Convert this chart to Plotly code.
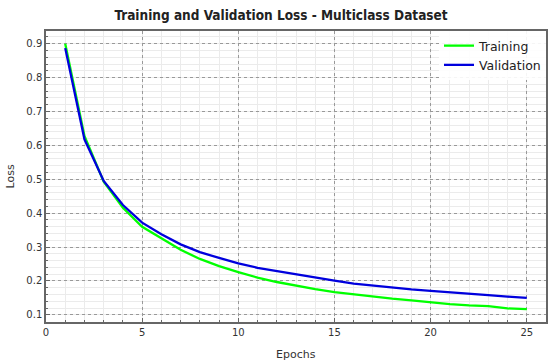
import plotly.graph_objects as go

epochs = list(range(1, 26))
training_loss = [0.900, 0.628, 0.493, 0.416, 0.360, 0.325, 0.292, 0.265, 0.244, 0.226,
                 0.210, 0.197, 0.186, 0.176, 0.167, 0.160, 0.153, 0.148, 0.143, 0.137,
                 0.132, 0.128, 0.126, 0.119, 0.117]
validation_loss = [0.887, 0.618, 0.495, 0.424, 0.372, 0.338, 0.308, 0.285, 0.268, 0.252,
                   0.239, 0.229, 0.219, 0.209, 0.201, 0.192, 0.186, 0.180, 0.175, 0.171,
                   0.166, 0.161, 0.158, 0.154, 0.150]
x_ticks = [0, 5, 10, 15, 20, 25]
y_ticks = [0.1, 0.2, 0.3, 0.4, 0.5, 0.6, 0.7, 0.8, 0.9]

fig = go.Figure()
fig.add_trace(go.Scatter(x=epochs, y=training_loss, mode="lines", name="Training",
                         line=dict(color="#00ff00", width=2.3)))
fig.add_trace(go.Scatter(x=epochs, y=validation_loss, mode="lines", name="Validation",
                         line=dict(color="#0000dd", width=2.3)))

axis_common = dict(
    showline=True, linecolor="#666666", linewidth=1.5, mirror=True,
    showgrid=True, gridcolor="#999999", griddash="dot", gridwidth=1,
    ticks="inside", ticklen=4, tickcolor="#666666",
    tickfont=dict(family="DejaVu Sans", size=10, color="#333333"),
    zeroline=False, automargin=False,
)
minor_common = dict(showgrid=True, gridcolor="#ebebeb", gridwidth=1, griddash="solid",
                    ticks="inside", ticklen=2, tickcolor="#666666")

L, R, T, B = 46, 4, 31, 42
W, H = 550, 364
pw, ph = W - L - R, H - T - B

fig.update_layout(
    width=W, height=H,
    margin=dict(l=L, r=R, t=T, b=B),
    paper_bgcolor="white", plot_bgcolor="white",
    title=dict(text="<b>Training and Validation Loss - Multiclass Dataset</b>",
               x=281 / W, xanchor="center", y=1 - 15 / H, yanchor="middle",
               font=dict(family="DejaVu Sans Condensed", size=13.5, color="#222222")),
    xaxis=dict(range=[0, 26], tickvals=x_ticks,
               minor=dict(dtick=1, **minor_common),
               **axis_common),
    yaxis=dict(range=[0.079, 0.9375], tickvals=y_ticks, tickformat=".1f",
               minor=dict(dtick=0.02, tick0=0.1, **minor_common),
               **axis_common),
    legend=dict(x=1.0, y=1.0, xanchor="right", yanchor="top",
                bgcolor="rgba(255,255,255,0.9)", borderwidth=0,
                font=dict(family="DejaVu Sans", size=12.5, color="#222222"),
                itemwidth=30),
    showlegend=True,
    annotations=[
        dict(text="Epochs", x=(296 - L) / pw, y=(H - B - 354) / ph, xref="paper", yref="paper",
             xanchor="center", yanchor="middle", showarrow=False,
             font=dict(family="DejaVu Sans", size=11, color="#333333")),
        dict(text="Loss", x=(10 - L) / pw, y=0.5, xref="paper", yref="paper",
             xanchor="center", yanchor="middle", showarrow=False, textangle=-90,
             font=dict(family="DejaVu Sans", size=11, color="#333333")),
    ],
)

fig.write_html("out.html", config={"displayModeBar": False},
               post_script="document.body.style.margin='0';")
